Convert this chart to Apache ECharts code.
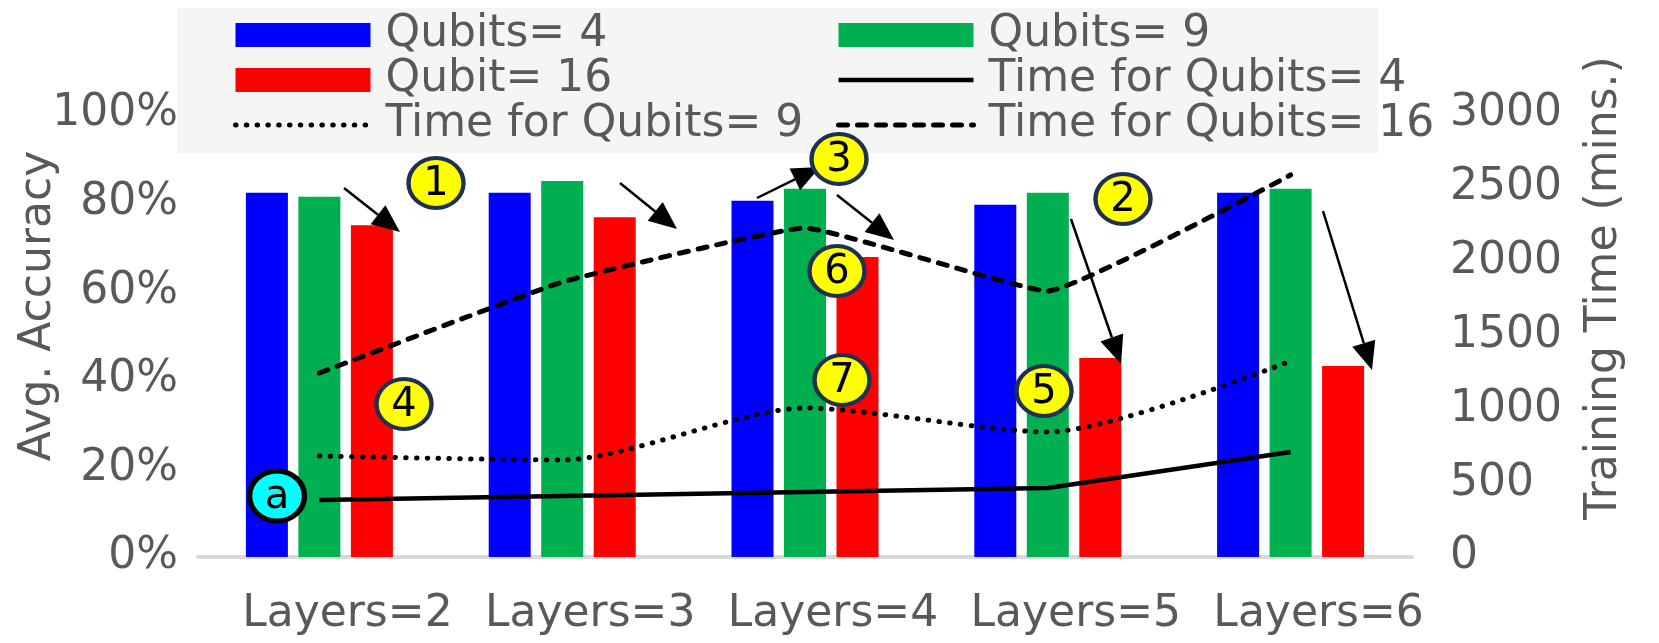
<!DOCTYPE html>
<html>
<head>
<meta charset="utf-8">
<script src="https://cdn.jsdelivr.net/npm/echarts@6/dist/echarts.min.js"></script>
<style>
  html, body { margin: 0; padding: 0; background: #fff; }
  #chart { width: 1659px; height: 643px; }
</style>
</head>
<body>
<div id="chart"></div>
<script>
const categories = ['Layers=2', 'Layers=3', 'Layers=4', 'Layers=5', 'Layers=6']

// avg. accuracy (%)
const acc4 = [82.2, 82.2, 80.4, 79.5, 82.2]
const acc9 = [81.3, 84.9, 83.1, 82.2, 83.1]
const acc16 = [74.9, 76.7, 67.7, 44.9, 43.1]

// training time (mins.)
const time4 = [386, 413, 440, 467, 711]
const time9 = [684, 657, 1009, 847, 1327]
const time16 = [1246, 1862, 2228, 1801, 2587]

const leftTicks = [0, 20, 40, 60, 80, 100]
const rightTicks = [0, 500, 1000, 1500, 2000, 2500, 3000]

const FONT = 'DejaVu Sans'
const GREY = '#595959'

// line styles, shared by series and legend
const solid = { color: '#000', width: 4.5, type: 'solid' }
const dotted = { color: '#000', width: 5, type: [0.5, 10.3], cap: 'round' }
const dashed = { color: '#000', width: 5, type: [9, 10], cap: 'round' }

// callout badges and arrows (annotation layer, in pixels)
const badges = [
  { t: '1', x: 436, y: 183 },
  { t: '2', x: 1123, y: 199 },
  { t: '3', x: 839, y: 159 },
  { t: '4', x: 404, y: 404 },
  { t: '5', x: 1044, y: 391 },
  { t: '6', x: 837, y: 271 },
  { t: '7', x: 842, y: 380 }
]
const arrows = [
  [344, 188, 400, 232],
  [620, 183, 677, 229],
  [757, 198, 820, 167],
  [837, 195, 894, 240],
  [1071, 219, 1121, 364],
  [1323, 211, 1372, 370]
]

function arrowEls(a) {
  const [x1, y1, x2, y2] = a
  const len = Math.hypot(x2 - x1, y2 - y1)
  const ux = (x2 - x1) / len, uy = (y2 - y1) / len
  const hl = 28, hw = 12
  const bx = x2 - ux * hl, by = y2 - uy * hl
  return [
    { type: 'line', z: 20, shape: { x1, y1, x2: bx, y2: by }, style: { stroke: '#000', lineWidth: 2.5 } },
    { type: 'polygon', z: 20, shape: { points: [[x2, y2], [bx - uy * hw, by + ux * hw], [bx + uy * hw, by - ux * hw]] }, style: { fill: '#000' } }
  ]
}

function badgeEls(b, fill, stroke, lw) {
  return [
    { type: 'circle', z: 21, x: b.x, y: b.y, scaleX: 1.1, shape: { cx: 0, cy: 0, r: 25 }, style: { fill, stroke, lineWidth: lw } },
    { type: 'text', z: 22, x: b.x, y: b.y + 2, style: { text: b.t, fill: '#000', font: '40px ' + FONT, align: 'center', verticalAlign: 'middle' } }
  ]
}

const graphics = [
  { type: 'rect', z: 1, shape: { x: 177, y: 8, width: 1201, height: 145 }, style: { fill: '#f5f5f5' } },
  { type: 'text', z: 5, x: 39, y: 306, rotation: Math.PI / 2,
    style: { text: 'Avg. Accuracy', fill: GREY, font: '44px ' + FONT, align: 'center', verticalAlign: 'middle' } },
  { type: 'text', z: 5, x: 1605, y: 288, rotation: Math.PI / 2,
    style: { text: 'Training Time (mins.)', fill: GREY, font: '44px ' + FONT, align: 'center', verticalAlign: 'middle' } }
]
arrows.forEach(a => graphics.push(...arrowEls(a)))
badges.forEach(b => graphics.push(...badgeEls(b, '#ffff00', '#1f3050', 4)))
graphics.push(...badgeEls({ t: 'a', x: 277, y: 496 }, '#00ffff', '#000', 5))

const legendBase = {
  orient: 'vertical',
  top: 13,
  padding: 0,
  itemWidth: 135,
  itemHeight: 24,
  itemGap: 1,
  selectedMode: false,
  textStyle: { fontFamily: FONT, fontSize: 44, color: GREY, lineHeight: 44, padding: [0, 0, 0, 10] },
  z: 6
}
const noDot = { opacity: 0 }

const chart = echarts.init(document.getElementById('chart'))

chart.setOption({
  backgroundColor: '#fff',
  animation: false,
  textStyle: { fontFamily: FONT },
  grid: { left: 198, right: 247, top: 114, bottom: 86 },
  legend: [
    Object.assign({}, legendBase, {
      left: 233,
      data: [
        { name: 'Qubits= 4', icon: 'rect' },
        { name: 'Qubit= 16', icon: 'rect' },
        { name: 'Time for Qubits= 9', itemStyle: noDot, lineStyle: dotted }
      ]
    }),
    Object.assign({}, legendBase, {
      left: 836,
      data: [
        { name: 'Qubits= 9', icon: 'rect' },
        { name: 'Time for Qubits= 4', itemStyle: noDot, lineStyle: solid },
        { name: 'Time for Qubits= 16', itemStyle: noDot, lineStyle: dashed }
      ]
    })
  ],
  xAxis: {
    type: 'category',
    data: categories,
    axisLine: { lineStyle: { color: '#d9d9d9', width: 4 } },
    axisTick: { show: false },
    axisLabel: { color: GREY, fontSize: 44, margin: 36, interval: 0, padding: [0, 0, 0, 56] }
  },
  yAxis: [
    {
      type: 'value',
      min: leftTicks[0],
      max: leftTicks[leftTicks.length - 1],
      interval: leftTicks[1] - leftTicks[0],
      splitLine: { show: false },
      axisLine: { show: false },
      axisTick: { show: false },
      axisLabel: { color: GREY, fontSize: 44, margin: 20, formatter: '{value}%' }
    },
    {
      type: 'value',
      min: rightTicks[0],
      max: rightTicks[rightTicks.length - 1],
      interval: rightTicks[1] - rightTicks[0],
      splitLine: { show: false },
      axisLine: { show: false },
      axisTick: { show: false },
      axisLabel: { color: GREY, fontSize: 44, margin: 38, formatter: v => String(v) }
    }
  ],
  series: [
    { name: 'Qubits= 4', type: 'bar', data: acc4, barWidth: 42, barGap: '25%', itemStyle: { color: '#0000ff' } },
    { name: 'Qubits= 9', type: 'bar', data: acc9, barWidth: 42, barGap: '25%', itemStyle: { color: '#00b050' } },
    { name: 'Qubit= 16', type: 'bar', data: acc16, barWidth: 42, barGap: '25%', itemStyle: { color: '#ff0000' } },
    {
      name: 'Time for Qubits= 4', type: 'line', yAxisIndex: 1, data: time4,
      symbol: 'none', smooth: false, itemStyle: { color: '#000' }, lineStyle: solid
    },
    {
      name: 'Time for Qubits= 9', type: 'line', yAxisIndex: 1, data: time9,
      symbol: 'none', smooth: 0.25, itemStyle: { color: '#000' }, lineStyle: dotted
    },
    {
      name: 'Time for Qubits= 16', type: 'line', yAxisIndex: 1, data: time16,
      symbol: 'none', smooth: 0.1, itemStyle: { color: '#000' }, lineStyle: dashed
    }
  ],
  graphic: graphics
})

window.addEventListener('resize', () => chart.resize())
</script>
</body>
</html>
